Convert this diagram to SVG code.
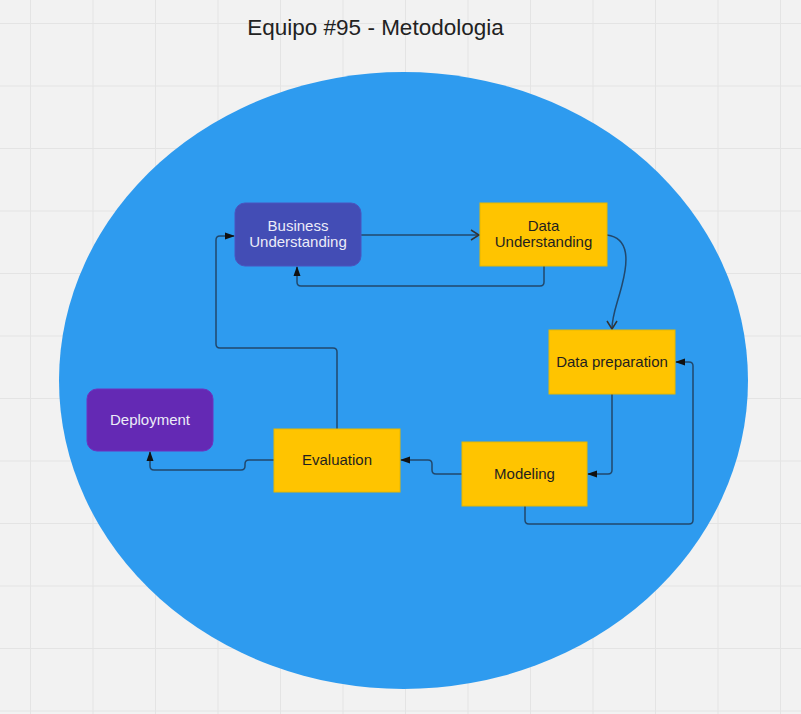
<svg xmlns="http://www.w3.org/2000/svg" width="801" height="714" viewBox="0 0 801 714">
<defs>
<style>
.grid line{stroke:#e4e4e4;stroke-width:1}
.lbl{font-family:"Liberation Sans",Arial,sans-serif;font-size:15px;text-anchor:middle}
.dark{fill:#1f1f1f}
.light{fill:#ececf8}
.box{fill:#ffc400;stroke:#e6b800;stroke-width:1}
.conn path{fill:none;stroke:#22486c;stroke-width:1.5;stroke-linejoin:round}
</style>
<marker id="tri" markerWidth="10" markerHeight="8" refX="9" refY="4" orient="auto" markerUnits="userSpaceOnUse">
<path d="M0,0.5 L10,4 L0,7.5 Z" fill="#111"/>
</marker>
<marker id="chev" markerWidth="12" markerHeight="12" refX="10" refY="6" orient="auto" markerUnits="userSpaceOnUse">
<path d="M2,1 L10,6 L2,11" fill="none" stroke="#333" stroke-width="1.5"/>
</marker>
</defs>
<rect width="801" height="714" fill="#f2f2f2"/>
<g class="grid">
<line x1="30.5" y1="0" x2="30.5" y2="714"/><line x1="93" y1="0" x2="93" y2="714"/><line x1="155.5" y1="0" x2="155.5" y2="714"/><line x1="218" y1="0" x2="218" y2="714"/><line x1="280.5" y1="0" x2="280.5" y2="714"/><line x1="343" y1="0" x2="343" y2="714"/><line x1="405.5" y1="0" x2="405.5" y2="714"/><line x1="468" y1="0" x2="468" y2="714"/><line x1="530.5" y1="0" x2="530.5" y2="714"/><line x1="593" y1="0" x2="593" y2="714"/><line x1="655.5" y1="0" x2="655.5" y2="714"/><line x1="718" y1="0" x2="718" y2="714"/><line x1="780.5" y1="0" x2="780.5" y2="714"/>
<line x1="0" y1="23.5" x2="801" y2="23.5"/><line x1="0" y1="86" x2="801" y2="86"/><line x1="0" y1="148.5" x2="801" y2="148.5"/><line x1="0" y1="211" x2="801" y2="211"/><line x1="0" y1="273.5" x2="801" y2="273.5"/><line x1="0" y1="336" x2="801" y2="336"/><line x1="0" y1="398.5" x2="801" y2="398.5"/><line x1="0" y1="461" x2="801" y2="461"/><line x1="0" y1="523.5" x2="801" y2="523.5"/><line x1="0" y1="586" x2="801" y2="586"/><line x1="0" y1="648.5" x2="801" y2="648.5"/><line x1="0" y1="711" x2="801" y2="711"/>
</g>
<text x="375.5" y="35" font-family="Liberation Sans,Arial,sans-serif" font-size="22.5" fill="#222" text-anchor="middle">Equipo #95 - Metodologia</text>
<ellipse id="circle" cx="403.5" cy="380.5" rx="344.5" ry="308.5" fill="#2e9bef"/>
<g class="conn">
<path d="M361,235 L479,235" marker-end="url(#chev)"/>
<path d="M544,266 L544,282 Q544,286 540,286 L301,286 Q297,286 297,282 L297,267" marker-end="url(#tri)"/>
<path d="M607,235 C630,238 628,262 622,285 C617,305 612,315 612,329" marker-end="url(#chev)"/>
<path d="M612,394 L612,470 Q612,474 608,474 L588,474" marker-end="url(#tri)"/>
<path d="M525,506 L525,520 Q525,524 529,524 L689,524 Q693,524 693,520 L693,366 Q693,362 689,362 L676,362" marker-end="url(#tri)"/>
<path d="M462,474 L436,474 Q432,474 432,470 L432,464 Q432,460 428,460 L401,460" marker-end="url(#tri)"/>
<path d="M337,429 L337,352 Q337,348 333,348 L220,348 Q216,348 216,344 L216,240 Q216,236 220,236 L234,236" marker-end="url(#tri)"/>
<path d="M274,460 L249,460 Q245,460 245,464 L245,466 Q245,470 241,470 L154,470 Q150,470 150,466 L150,452" marker-end="url(#tri)"/>
</g>
<g id="business-understanding">
<rect x="235" y="203" width="126" height="63" rx="10" fill="#434db5" stroke="#4a55c0"/>
<text class="lbl light" x="298" y="231">Business</text>
<text class="lbl light" x="298" y="247">Understanding</text>
</g>
<g id="data-understanding">
<rect class="box" x="480" y="203" width="127" height="63"/>
<text class="lbl dark" x="543.5" y="231">Data</text>
<text class="lbl dark" x="543.5" y="247">Understanding</text>
</g>
<g id="data-preparation">
<rect class="box" x="549" y="330" width="126" height="64"/>
<text class="lbl dark" x="612" y="367">Data preparation</text>
</g>
<g id="modeling">
<rect class="box" x="462" y="442" width="125" height="64"/>
<text class="lbl dark" x="524.5" y="479">Modeling</text>
</g>
<g id="evaluation">
<rect class="box" x="274" y="429" width="126" height="63"/>
<text class="lbl dark" x="337" y="465">Evaluation</text>
</g>
<g id="deployment">
<rect x="87" y="389" width="126" height="62" rx="10" fill="#6429b4" stroke="#6c33c0"/>
<text class="lbl light" x="150" y="425">Deployment</text>
</g>
</svg>
